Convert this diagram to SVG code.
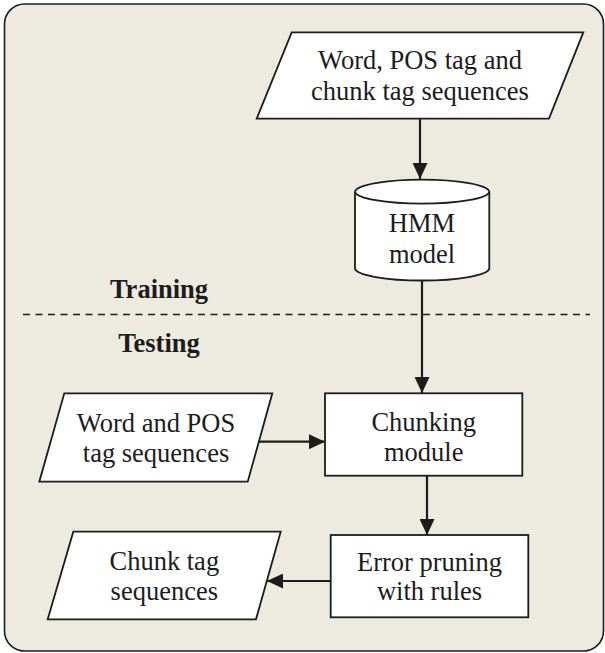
<svg xmlns="http://www.w3.org/2000/svg" width="605" height="653" viewBox="0 0 605 653">
<defs>
<style>
.frame{fill:#edeae0;stroke:#1c1c1c;stroke-width:1.6}
.node{fill:#ffffff;stroke:#1c1c1c;stroke-width:1.8}
.t{font-family:"Liberation Serif","Times New Roman",serif;font-size:26.5px;fill:#1c1c1c;text-anchor:middle}
.b{font-weight:bold}
.edge{stroke:#1c1c1c;stroke-width:2.2;fill:none;marker-end:url(#ah)}
.dash{stroke:#1c1c1c;stroke-width:1.6;stroke-dasharray:7 5.5;fill:none}
</style>
<marker id="ah" markerWidth="16" markerHeight="15" refX="16" refY="7.5" orient="auto" markerUnits="userSpaceOnUse">
<path d="M0,0 L16,7.5 L0,15 Z" fill="#1c1c1c"/>
</marker>
</defs>
<rect class="frame" x="4.5" y="4" width="599" height="647" rx="20" ry="20"/>
<g id="labels">
<text class="t b" x="159" y="298">Training</text>
<text class="t b" x="159" y="352">Testing</text>
<line class="dash" x1="23" y1="314.5" x2="590" y2="314.5"/>
</g>
<g id="connectors">
<line class="edge" x1="420" y1="119" x2="420" y2="179"/>
<line class="edge" x1="422" y1="281" x2="422" y2="393"/>
<line class="edge" x1="259" y1="441.7" x2="325" y2="441.7"/>
<line class="edge" x1="427" y1="476" x2="427" y2="535"/>
<line class="edge" x1="330.7" y1="581" x2="267" y2="581"/>
</g>
<g id="n-train-input">
<polygon class="node" points="291.7,32.3 583.3,32.3 549,118.7 256.7,118.7"/>
<text class="t" x="420" y="69">Word, POS tag and</text>
<text class="t" x="420" y="100">chunk tag sequences</text>
</g>
<g id="n-hmm">
<path class="node" d="M355,191.7 A67.2,12.5 0 0 1 489.3,191.7 L489.3,268.5 A67.2,12.5 0 0 1 355,268.5 Z"/>
<path class="node" d="M355,191.7 A67.2,12.5 0 0 0 489.3,191.7" fill="none"/>
<text class="t" x="422" y="232">HMM</text>
<text class="t" x="422" y="263">model</text>
</g>
<g id="n-test-input">
<polygon class="node" points="64.3,393.3 272.3,393.3 247.7,481.7 39.3,481.7"/>
<text class="t" x="156" y="431.7">Word and POS</text>
<text class="t" x="156" y="461.7">tag sequences</text>
</g>
<g id="n-chunking">
<rect class="node" x="325" y="393.3" width="197.3" height="82.4"/>
<text class="t" x="423.7" y="430.7">Chunking</text>
<text class="t" x="423.7" y="461">module</text>
</g>
<g id="n-pruning">
<rect class="node" x="330.7" y="535" width="197.6" height="82.3"/>
<text class="t" x="429.5" y="571">Error pruning</text>
<text class="t" x="429.5" y="600">with rules</text>
</g>
<g id="n-output">
<polygon class="node" points="73.3,531.7 280.7,531.7 256,619.3 47.7,619.3"/>
<text class="t" x="164.3" y="570">Chunk tag</text>
<text class="t" x="164.3" y="600">sequences</text>
</g>
</svg>
